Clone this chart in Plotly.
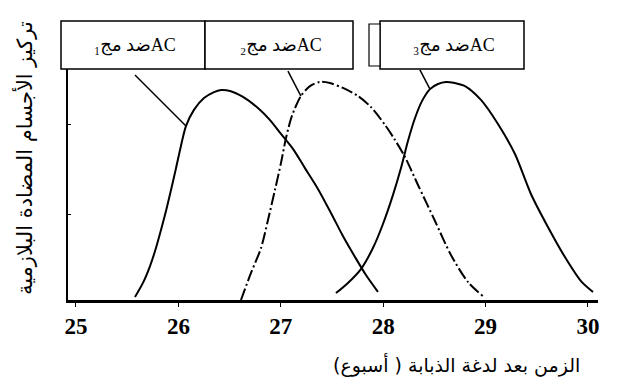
import plotly.graph_objects as go

# ---- data (weeks after the bite, relative antibody concentration) ----
c1_x = [25.576, 25.654, 25.723, 25.781, 25.830, 25.879, 25.928, 25.977, 26.025, 26.074, 26.152, 26.250,
        26.348, 26.416, 26.504, 26.631, 26.777, 26.895, 27.002, 27.119, 27.236, 27.363, 27.490, 27.607,
        27.725, 27.832, 27.949]
c1_y = [1.3, 7.4, 14.7, 22.5, 30.3, 38.5, 47.6, 57.1, 66.7, 75.3, 82.3, 87.4,
        90.0, 90.9, 90.5, 87.9, 83.1, 77.9, 71.9, 65.4, 57.1, 48.1, 37.7, 27.7,
        18.6, 10.8, 3.5]

c2_x = [26.611, 26.709, 26.807, 26.875, 26.943, 27.002, 27.051, 27.109, 27.197, 27.285, 27.383, 27.480,
        27.607, 27.754, 27.881, 28.018, 28.115, 28.213, 28.340, 28.506, 28.662, 28.828, 28.984]
c2_y = [0.0, 11.7, 22.5, 34.6, 47.6, 59.3, 70.1, 79.7, 88.3, 92.6, 94.4, 93.9,
        91.8, 88.3, 83.5, 75.8, 69.3, 61.9, 49.8, 34.2, 19.5, 7.8, 1.3]

c3_x = [27.539, 27.656, 27.783, 27.900, 27.998, 28.096, 28.174, 28.242, 28.311, 28.379, 28.457, 28.535,
        28.613, 28.701, 28.799, 28.955, 29.121, 29.287, 29.443, 29.609, 29.775, 29.932, 30.049]
c3_y = [3.0, 7.4, 13.4, 22.5, 32.9, 45.5, 57.1, 68.8, 78.8, 86.1, 91.3, 93.5,
        94.4, 93.9, 92.6, 86.6, 76.2, 63.2, 45.9, 31.6, 18.6, 8.2, 3.5]

# leader lines from the label boxes to the curves
lead1_x = [25.576, 26.074]
lead1_y = [97.4, 75.3]
lead2_x = [27.070, 27.197]
lead2_y = [99.1, 88.3]
lead3_x = [28.359, 28.457]
lead3_y = [99.6, 91.3]

x_ticks = [25, 26, 27, 28, 29, 30]
x_tick_labels = ["25", "26", "27", "28", "29", "30"]

box_labels = ["₁ضد مجAC", "₂ضد مجAC", "₃ضد مجAC"]
x_title = "\u200fالزمن بعد لدغة الذبابة ( أسبوع)\u200f"
y_title = "تركيز الأجسام المضادة البلازمية"

# ---- figure ----
W, H = 619, 385
L, R, T, B = 60, 29, 61, 93
pw, ph = W - L - R, H - T - B

def px_x(p):
    return (p - L) / pw

def px_y(p):
    return (H - B - p) / ph

fig = go.Figure()
fig.add_trace(go.Scatter(x=c1_x, y=c1_y, mode="lines", line=dict(color="black", width=2, shape="spline", smoothing=0.8)))
fig.add_trace(go.Scatter(x=c2_x, y=c2_y, mode="lines",
                         line=dict(color="black", width=2, dash="12px,3px,2px,3px", shape="spline", smoothing=0.8)))
fig.add_trace(go.Scatter(x=c3_x, y=c3_y, mode="lines", line=dict(color="black", width=2, shape="spline", smoothing=0.8)))
for lx, ly in [(lead1_x, lead1_y), (lead2_x, lead2_y), (lead3_x, lead3_y)]:
    fig.add_trace(go.Scatter(x=lx, y=ly, mode="lines", line=dict(color="black", width=1.5)))

# label boxes above the plot
boxes = [(53, 197), (197, 345), (372, 516)]
for (x0, x1), txt in zip(boxes, box_labels):
    fig.add_shape(type="rect", xref="paper", yref="paper",
                  x0=px_x(x0), x1=px_x(x1), y0=px_y(61), y1=px_y(13),
                  line=dict(color="black", width=1.5), fillcolor="white")
    fig.add_annotation(xref="paper", yref="paper", x=px_x((x0 + x1) / 2 + 2), y=px_y(38),
                       xanchor="center", yanchor="middle", text=txt, showarrow=False,
                       font=dict(family="Liberation Serif, DejaVu Sans", size=18, color="black"))
# small extra box left of box 3
fig.add_shape(type="rect", xref="paper", yref="paper",
              x0=px_x(361), x1=px_x(372), y0=px_y(58), y1=px_y(16),
              line=dict(color="black", width=1.2), fillcolor="white")

fig.add_annotation(xref="paper", yref="paper", x=px_x(16), y=px_y(150), textangle=-90,
                   text=y_title, showarrow=False, xanchor="center", yanchor="middle",
                   font=dict(family="DejaVu Sans", size=21, color="black"))
fig.add_annotation(xref="paper", yref="paper", x=px_x(448), y=px_y(357),
                   text=x_title, showarrow=False, xanchor="center", yanchor="middle",
                   font=dict(family="DejaVu Sans", size=19, color="black"))

fig.update_layout(
    width=W, height=H,
    margin=dict(l=L, r=R, t=T, b=B),
    paper_bgcolor="white", plot_bgcolor="white",
    showlegend=False,
    xaxis=dict(range=[24.922, 30.098], tickvals=x_ticks, ticktext=x_tick_labels,
               showgrid=False, zeroline=False, showline=True, linecolor="black", linewidth=2.5,
               ticks="outside", ticklen=4, tickcolor="black", tickwidth=1,
               tickfont=dict(family="Liberation Serif", size=23, color="black", weight="bold")),
    yaxis=dict(range=[0, 100], showticklabels=False, showgrid=False, zeroline=False,
               showline=True, linecolor="black", linewidth=2,
               ticks="inside", ticklen=3, tickvals=[36.8, 75.8], tickcolor="black"),
)

fig.write_html("out.html")
